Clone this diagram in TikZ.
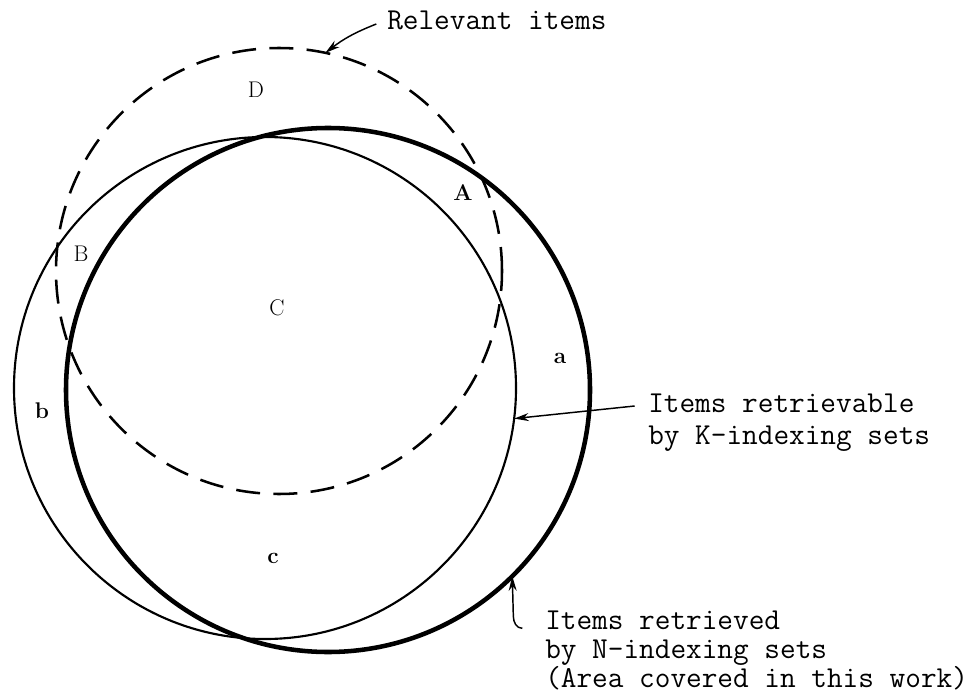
\documentclass[tikz,border=0pt]{standalone}
\usepackage{fontspec}
\usetikzlibrary{
	arrows.meta
}

\begin{document}
\begin{tikzpicture}[x=0.75pt,y=0.75pt,
		arr/.style={-{Stealth[length=11pt,width=6pt]},line width=1.1pt},
		region/.style={font=\fontsize{17}{20}\selectfont,inner sep=0pt},
		caption/.style={font=\ttfamily\fontsize{22.8}{24}\selectfont,align=left,inner sep=0pt}]
		
		\useasboundingbox (0,0) rectangle (973,697);
		
		% centres of the three sets
		\coordinate (relc) at (279,426);
		\coordinate (kc) at (265,309);
		\coordinate (nc) at (328,307);
		
		% relevant items
		\draw[dash pattern=on 18pt off 10pt,line width=1.9pt] (relc) circle (223);
		
		% retrievable by K-indexing
		\draw[line width=1.6pt] (kc) circle (251);
		
		% retrieved by N-indexing
		\draw[line width=3.4pt] (nc) circle (262);
		
		% regions
		\node[region] (D) at (256,607) {D};
		\node[region] (A) at (463,504) {\bfseries A};
		\node[region] (B) at (81,443) {B};
		\node[region] (C) at (277,389) {C};
		\node[region] (a) at (560,339) {\bfseries a};
		\node[region] (b) at (42,286) {\bfseries b};
		\node[region] (c) at (273,139) {\bfseries c};
		
		% arrow tips on the circles
		\path (relc) ++(78:223) coordinate (reltip);
		\path (kc) ++(-7:251) coordinate (ktip);
		\path (nc) ++(-45.3:262) coordinate (ntip);
		
		% labels
		\node[caption,anchor=base west] (relevant) at (387,667) {Relevant items};
		\node[caption,anchor=north west] (kset) at (648,303) {Items retrievable\\by K-indexing sets};
		\node[caption,anchor=north west,font=\ttfamily\fontsize{22.8}{21.5}\selectfont] (nset) at (545,86)
		{Items retrieved\\by N-indexing sets\\(Area covered in this work)};
		
		\draw[arr] ([xshift=-8pt,yshift=4.5pt]relevant.base west) to[bend right=8] (reltip);
		\draw[arr] ([xshift=-10pt,yshift=-9pt]kset.north west) -- (ktip);
		\draw[arr] ([xshift=-17pt,yshift=-13pt]nset.north west) to[out=180,in=-90] ++(-9,12) -- (ntip);
		
	\end{tikzpicture}
\end{document}
